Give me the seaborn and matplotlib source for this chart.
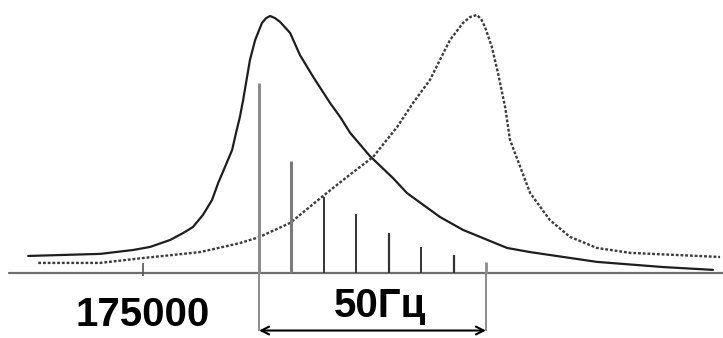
import numpy as np
import pandas as pd
import matplotlib.pyplot as plt
import seaborn as sns

# частота (условные единицы, шаг гармоник = 10) и амплитуда (% от максимума)
solid_f = [-71.2, -49.0, -38.9, -33.6, -27.4, -23.4, -20.4, -17.3, -14.5, -12.6,
           -10.5, -8.3, -7.1, -5.9, -4.9, -2.8, -1.2, 0.9, 2.2, 3.4, 4.9, 6.5,
           9.6, 12.6, 16.7, 21.9, 25.0, 28.1, 34.2, 41.3, 45.6, 55.8, 62.9,
           76.5, 83.6, 104.2, 124.6, 140.0]
solid_a = [6.6, 7.4, 8.9, 10.1, 12.8, 15.5, 17.8, 22.5, 28.3, 34.9,
           41.1, 47.7, 54.3, 60.5, 67.1, 82.6, 90.3, 96.9, 98.8, 99.6, 98.8, 97.3,
           93.0, 84.5, 76.0, 65.9, 60.5, 54.3, 45.3, 36.8, 31.0, 21.7, 16.7,
           9.7, 8.1, 4.3, 2.3, 1.2]

dotted_f = [-68.1, -49.0, -35.8, -23.4, -18.2, -11.1, -5.9, 0.3, 2.8, 9.6,
            19.4, 27.1, 35.2, 42.6, 47.5, 52.7, 55.8, 58.9, 62.9, 65.1, 67.2,
            68.5, 69.7, 71.8, 73.7, 75.9, 77.4, 83.6, 89.7, 95.9, 104.2, 114.4,
            142.2]
dotted_a = [3.9, 3.9, 5.8, 7.4, 8.1, 10.1, 11.6, 14.0, 15.5, 19.4,
            29.5, 37.2, 45.0, 56.6, 65.9, 74.8, 82.6, 90.3, 96.9, 99.2, 100.0,
            98.4, 95.3, 87.6, 77.5, 64.3, 51.6, 31.0, 20.5, 14.0, 9.7, 7.8,
            6.2]

harm_f = [0, 10, 20, 30, 40, 50, 60, 70]
harm_a = [73.6, 43.4, 29.5, 22.9, 15.5, 10.1, 7.0, 4.3]

tick_f = -35.8
tick_label = "175000"
span_label = "50Гц"

sns.set_style("white")
plt.rcParams['font.family'] = ['Liberation Sans', 'DejaVu Sans']

fig = plt.figure(figsize=(7.23, 3.38), dpi=100)
ax = fig.add_axes([0, 0, 1, 1])

df1 = pd.DataFrame({'f': solid_f, 'a': solid_a})
df2 = pd.DataFrame({'f': dotted_f, 'a': dotted_a})
sns.lineplot(data=df1, x='f', y='a', ax=ax, color='#1e1e1e', lw=1.6, sort=False)
sns.lineplot(data=df2, x='f', y='a', ax=ax, color='#3c3c3c', lw=1.7,
             linestyle=(0, (1.2, 0.8)), sort=False)

# ось частот
ax.axhline(0, xmin=0.012, xmax=1, color='#6e6e6e', lw=1.6)
ax.vlines(tick_f, -1, 4, color='#555555', lw=1.2)

# гармоники
colors = ['#8c8c8c', '#7a7a7a'] + ['#333333'] * 5 + ['#8c8c8c']
widths = [2.2, 2.2, 1.4, 1.4, 1.6, 1.4, 1.6, 2.0]
for f, a, c, w in zip(harm_f, harm_a, colors, widths):
    ax.vlines(f, 0, a, color=c, lw=w)

# выноски
ax.vlines([harm_f[0], harm_f[-1]], -22.5, 0, color='#8c8c8c', lw=1.4)
ax.annotate('', xy=(harm_f[0], -22.3), xytext=(harm_f[-1], -22.3),
            arrowprops=dict(arrowstyle='<->', color='black', lw=1.5,
                            mutation_scale=14, shrinkA=0, shrinkB=0))

ax.text(tick_f, -20.5, tick_label, ha='center', va='baseline',
        fontsize=29, fontweight='bold', color='black')
ax.text(37.3, -17.1, span_label, ha='center', va='baseline',
        fontsize=29, fontweight='bold', color='black')

ax.set_xlim(-79.9, 143.1)
ax.set_ylim(-25.2, 105.8)
ax.axis('off')

fig.savefig('out.png', dpi=100)
